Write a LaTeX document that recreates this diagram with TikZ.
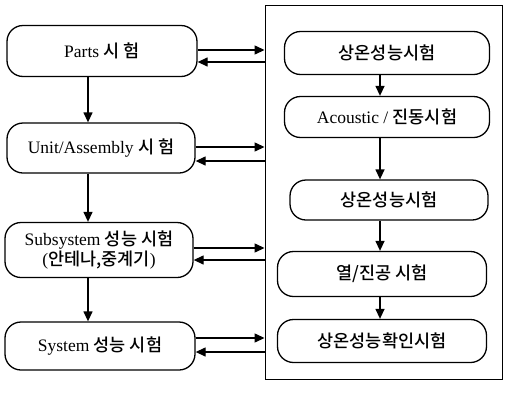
\documentclass[tikz,border=0pt]{standalone}
\usepackage{fontspec}
\setmainfont{Liberation Serif}
\newfontfamily\krfont{Noto Sans CJK KR}[UprightFont=* Medium]
\newcommand{\kor}[1]{{\krfont #1}}
\usetikzlibrary{arrows.meta}

\tikzset{
  box/.style={draw, line width=1.3pt, rounded corners=16pt, align=center,
    inner sep=2pt, font=\fontsize{17.5}{20}\selectfont},
  arr/.style={draw, line width=1.3pt, -{Triangle[length=10pt,width=9pt]}}
}

\begin{document}
\begin{tikzpicture}[x=1pt,y=-1pt]

        \useasboundingbox (0,0) rectangle (505,394);

        % frame round the right column
        \node[draw, line width=0.9pt, minimum width=237pt, minimum height=374pt,
          inner sep=0pt] (frame) at (383.5,192) {};

        \coordinate (lx) at (88,0);
        \coordinate (rx) at (380,0);

        \begin{scope}[every node/.style={box}]
          \node[minimum width=190pt, minimum height=51pt] (parts)  at (102,51)  {Parts \kor{시 험}};
          \node[minimum width=188pt, minimum height=50pt] (unit)   at (101,148) {Unit/Assembly \kor{시 험}};
          \node[minimum width=188pt, minimum height=55pt] (subsys) at (99,250)  {Subsystem \kor{성능 시험}\\(\kor{안테나,중계기})};
          \node[minimum width=190pt, minimum height=48pt] (system) at (100,346) {System \kor{성능 시험}};

          \node[minimum width=205pt, minimum height=43pt] (amb1)   at (387,53)  {\kor{상온성능시험}};
          \node[minimum width=205pt, minimum height=41pt] (acou)   at (387,117) {Acoustic / \kor{진동시험}};
          \node[minimum width=198pt, minimum height=40pt] (amb2)   at (389,200) {\kor{상온성능시험}};
          \node[minimum width=209pt, minimum height=45pt] (tvac)   at (382,274) {\kor{열/진공 시험}};
          \node[minimum width=209pt, minimum height=43pt] (amb3)   at (382,341) {\kor{상온성능확인시험}};
        \end{scope}

        % left column
        \path (parts.south -| lx)  edge[arr] (unit.north -| lx);
        \path (unit.south -| lx)   edge[arr] (subsys.north -| lx);
        \path (subsys.south -| lx) edge[arr] (system.north -| lx);

        % right column
        \path (amb1.south -| rx) edge[arr] (acou.north -| rx);
        \path (acou.south -| rx) edge[arr] (amb2.north -| rx);
        \path (amb2.south -| rx) edge[arr] (tvac.north -| rx);
        \path (tvac.south -| rx) edge[arr] (amb3.north -| rx);

        % to and from the frame
        \path (parts.east |- 0,50)   edge[arr] (frame.west |- 0,50);
        \path (frame.west |- 0,62)   edge[arr] (parts.east |- 0,62);
        \path (unit.east |- 0,147)   edge[arr] (frame.west |- 0,147);
        \path (frame.west |- 0,161)  edge[arr] (unit.east |- 0,161);
        \path (subsys.east |- 0,248) edge[arr] (frame.west |- 0,248);
        \path (frame.west |- 0,260)  edge[arr] (subsys.east |- 0,260);
        \path (system.east |- 0,338) edge[arr] (frame.west |- 0,338);
        \path (frame.west |- 0,352)  edge[arr] (system.east |- 0,352);

      \end{tikzpicture}
\end{document}
